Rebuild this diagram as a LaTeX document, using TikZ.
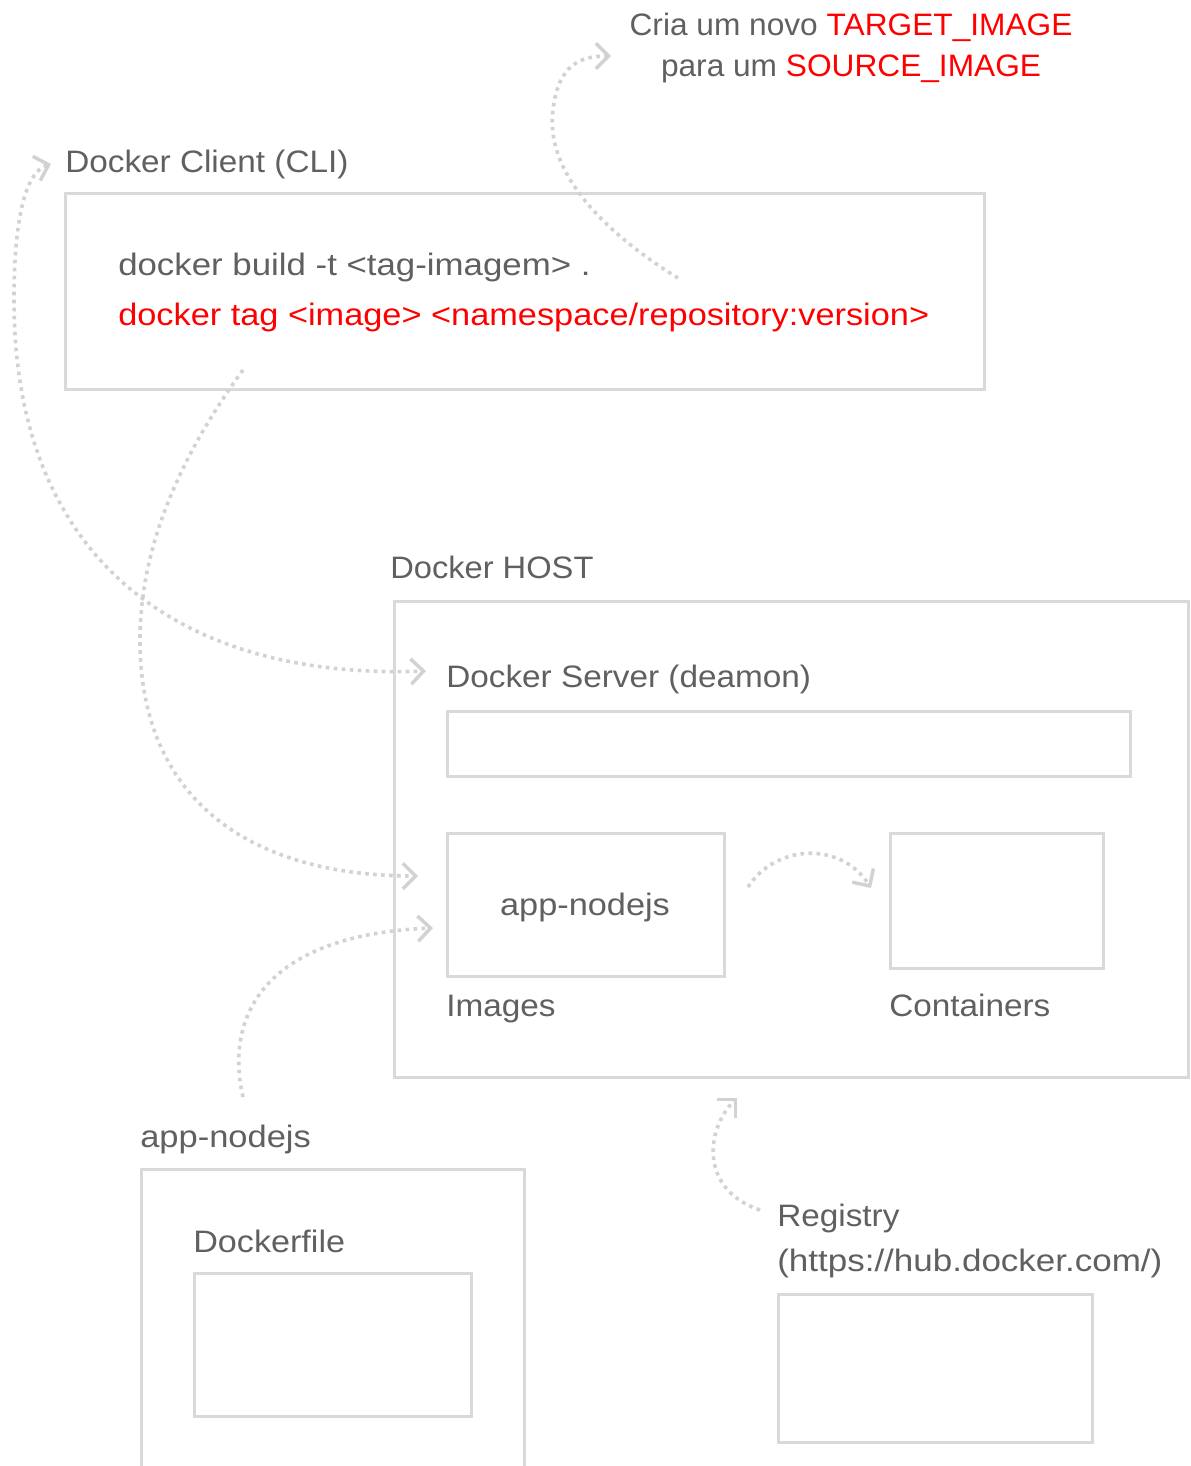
\documentclass[tikz,border=0pt]{standalone}
\usepackage{fontspec}
\setmainfont{Liberation Sans}[FakeStretch=1.075]
\usetikzlibrary{arrows.meta,fit}
\definecolor{txtgray}{HTML}{606060}
\definecolor{linegray}{HTML}{D9D9D9}
\definecolor{dotgray}{HTML}{D2D2D2}
\definecolor{hotred}{HTML}{FF0000}
\begin{document}
\begin{tikzpicture}[x=0.75pt,y=-0.75pt,
  box/.style={draw=linegray,line width=2.25pt,inner sep=0pt},
  lbl/.style={text=txtgray,font=\fontsize{23.25pt}{28pt}\selectfont,inner sep=0pt,anchor=base west},
  barb/.tip={Straight Barb[length=9.5pt,width=19pt,line width=2.6pt]},
  dots/.style={draw=dotgray,line width=2.7pt,dash pattern=on 2.7pt off 3.3pt},
  conn/.style={dots,-barb},
  conn2/.style={dots,barb-barb}]
\clip (0,0) rectangle (1191,1466);
\fill[white] (0,0) rectangle (1191,1466);

% note
\node[lbl,anchor=base] (note1) at (851,36) {\scalebox{0.95}[1]{Cria um novo \textcolor{hotred}{TARGET\_IMAGE}}};
\node[lbl,anchor=base] (note2) at (851,77) {\scalebox{0.95}[1]{para um \textcolor{hotred}{SOURCE\_IMAGE}}};

% client
\node[lbl] (clientlbl) at (65,172) {Docker Client (CLI)};
\node[box,fit={(65.5,193)(984,389)}] (client) {};
\node[lbl] (cmd1) at (118,275) {\scalebox{1.045}[1]{docker build -t <tag-imagem> .}};
\node[lbl,text=hotred] (cmd2) at (118,325) {\scalebox{1.03}[1]{docker tag <image> <namespace/repository:version>}};

% host
\node[lbl] (hostlbl) at (390,578) {\scalebox{0.98}[1]{Docker HOST}};
\node[box,fit={(394,601)(1188,1077)}] (host) {};
\node[lbl] (serverlbl) at (446,687) {Docker Server (deamon)};
\node[box,fit={(447,711)(1130,776)}] (server) {};
\node[box,fit={(447,833)(724,976)}] (images) {};
\node[lbl,anchor=base] (imgapp) at (585,915) {\scalebox{1.03}[1]{app-nodejs}};
\node[lbl] (imageslbl) at (446,1016) {Images};
\node[box,fit={(890,833)(1103,968)}] (containers) {};
\node[lbl] (containerslbl) at (889,1016) {Containers};

% app
\node[lbl] (applbl) at (140,1147) {\scalebox{1.035}[1]{app-nodejs}};
\node[box,fit={(141,1169)(524,1500)}] (app) {};
\node[lbl] (dockerfilelbl) at (193,1252) {\scalebox{1.025}[1]{Dockerfile}};
\node[box,fit={(194,1273)(471,1416)}] (dockerfile) {};

% registry
\node[lbl] (registrylbl) at (777,1226) {Registry};
\node[lbl] (registryurl) at (777,1271) {\scalebox{1.05}[1]{(https://hub.docker.com/)}};
\node[box,fit={(778,1294)(1092,1442)}] (registry) {};

% connectors
\coordinate (c1s) at (678,278); \coordinate (c1e) at (611,56);
\draw[conn] (c1s) .. controls (600,230) and (545,170) .. (553,110) .. controls (558,65) and (580,56) .. (c1e);

\coordinate (c2a) at (51,164); \coordinate (c2b) at (426,671);
\draw[conn2] (c2a) .. controls (25,172) and (14,220) .. (14,300) .. controls (14,560) and (180,680) .. (c2b);

\coordinate (c3s) at (243,370); \coordinate (c3e) at (418,876);
\draw[conn] (c3s) .. controls (170,470) and (140,560) .. (140,640) .. controls (140,800) and (250,876) .. (c3e);

\coordinate (c4s) at (243,1097); \coordinate (c4e) at (433,928);
\draw[conn] (c4s) .. controls (225,1020) and (260,935) .. (c4e);

\coordinate (c5s) at (748,887); \coordinate (c5e) at (871,888);
\draw[conn] (c5s) .. controls (775,845) and (840,840) .. (c5e);

\coordinate (c6s) at (760,1210); \coordinate (c6e) at (737,1098);
\draw[conn] (c6s) .. controls (700,1190) and (705,1130) .. (c6e);
\end{tikzpicture}
\end{document}
